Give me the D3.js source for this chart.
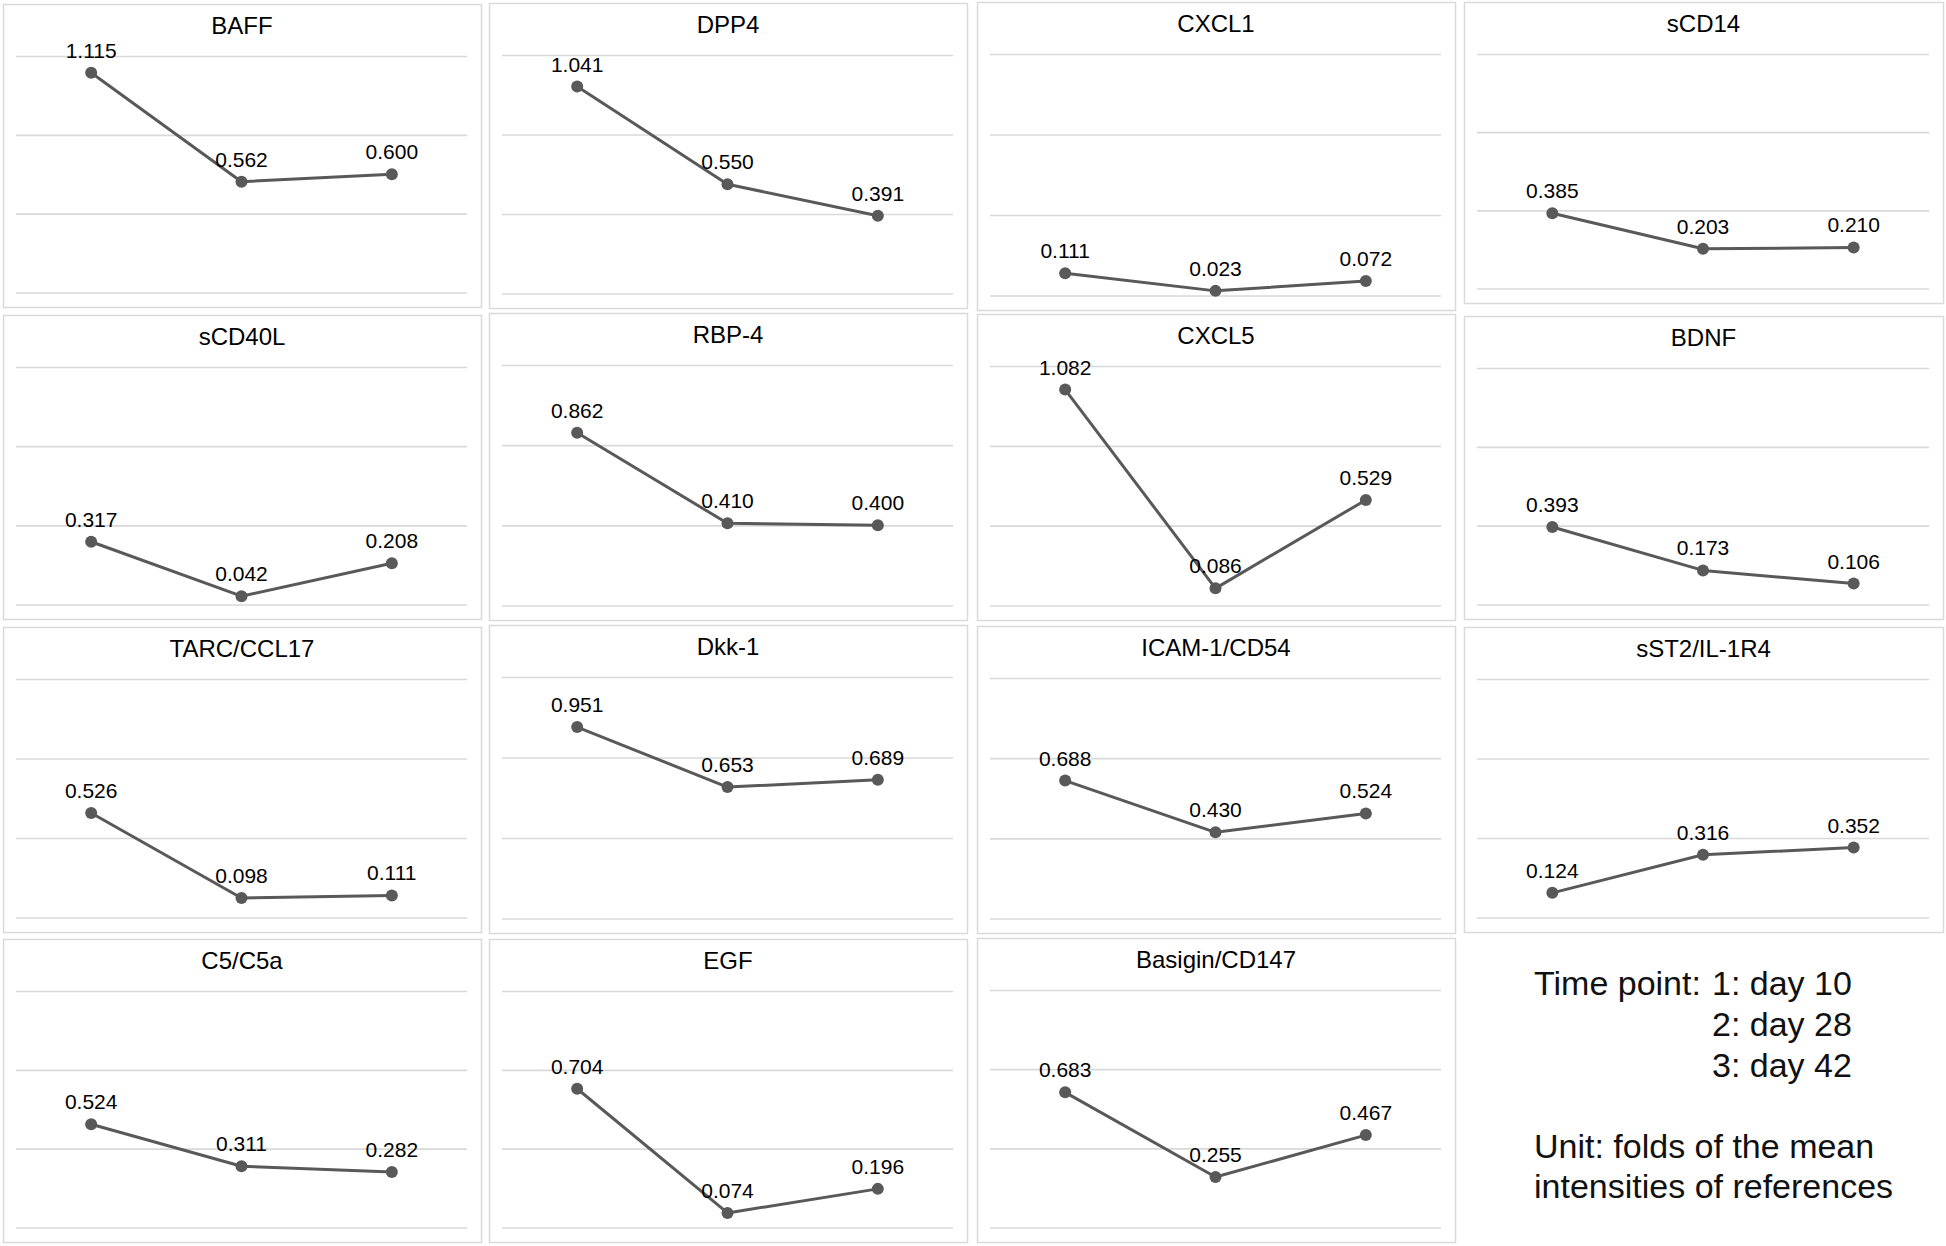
<!DOCTYPE html>
<html>
<head>
<meta charset="utf-8">
<script src="https://cdn.jsdelivr.net/npm/d3@7"></script>
<style>
  html, body { margin: 0; padding: 0; background: #ffffff; }
  svg { display: block; font-family: "Liberation Sans", Arial, Helvetica, sans-serif; }
</style>
</head>
<body>
<svg id="chart" width="1946" height="1246"></svg>
<script>
// ---------- data ----------
const analytes = ["BAFF", "DPP4", "CXCL1", "sCD14",
                  "sCD40L", "RBP-4", "CXCL5", "BDNF",
                  "TARC/CCL17", "Dkk-1", "ICAM-1/CD54", "sST2/IL-1R4",
                  "C5/C5a", "EGF", "Basigin/CD147"];
const timePoints = [1, 2, 3];
const day10 = [1.115, 1.041, 0.111, 0.385, 0.317, 0.862, 1.082, 0.393, 0.526, 0.951, 0.688, 0.124, 0.524, 0.704, 0.683];
const day28 = [0.562, 0.550, 0.023, 0.203, 0.042, 0.410, 0.086, 0.173, 0.098, 0.653, 0.430, 0.316, 0.311, 0.074, 0.255];
const day42 = [0.600, 0.391, 0.072, 0.210, 0.208, 0.400, 0.529, 0.106, 0.111, 0.689, 0.524, 0.352, 0.282, 0.196, 0.467];
const yTicks = [0, 0.4, 0.8, 1.2];
const noteTimeLabel = "Time point:";
const noteTimeLines = ["1: day 10", "2: day 28", "3: day 42"];
const noteUnitLines = ["Unit: folds of the mean", "intensities of references"];

// ---------- layout ----------
const colLeft  = [3, 489, 977, 1464];
const colRight = [481, 967, 1455, 1943];
const rowTop    = [[4, 3, 2, 2], [315, 313, 314, 316], [627, 625, 626, 627], [939, 939, 938]];
const rowBottom = [[307, 308, 310, 303], [619, 620, 620, 619], [932, 933, 933, 932], [1242, 1242, 1242]];

const lineColor = "#595959";
const gridColor = "#d9d9d9";
const fmt = d3.format(".3f");

const svg = d3.select("#chart");

analytes.forEach((name, i) => {
  const r = Math.floor(i / 4), c = i % 4;
  const x0 = colLeft[c], x1 = colRight[c];
  const y0 = rowTop[r][c], y1 = rowBottom[r][c];
  const g = svg.append("g");

  // panel border
  g.append("rect")
    .attr("x", x0 + 0.5).attr("y", y0 + 0.5)
    .attr("width", x1 - x0).attr("height", y1 - y0)
    .attr("fill", "#fff").attr("stroke", gridColor).attr("stroke-width", 1.5);

  const pl = x0 + 13, pr = x1 - 14;
  const pt = y0 + 52, pb = y1 - 14.5;

  const x = d3.scalePoint().domain(timePoints).range([pl, pr]).padding(0.5);
  const y = d3.scaleLinear().domain([0, 1.2]).range([pb, pt]);

  // gridlines
  const gridAxis = d3.axisLeft(y).tickValues(yTicks).tickSize(-(pr - pl)).tickFormat("");
  const gg = g.append("g").attr("transform", `translate(${pl},0)`).call(gridAxis);
  gg.select(".domain").remove();
  gg.selectAll(".tick line").attr("stroke", gridColor).attr("stroke-width", 1.6);

  // title
  g.append("text")
    .attr("x", (x0 + x1) / 2).attr("y", y0 + 30)
    .attr("text-anchor", "middle")
    .attr("font-size", 24).attr("fill", "#000")
    .text(name);

  const pts = timePoints.map((t, k) => ({ t, v: [day10[i], day28[i], day42[i]][k] }));

  g.append("path")
    .datum(pts)
    .attr("fill", "none").attr("stroke", lineColor).attr("stroke-width", 3)
    .attr("stroke-linejoin", "round")
    .attr("d", d3.line().x(d => x(d.t)).y(d => y(d.v)));

  g.selectAll("circle").data(pts).join("circle")
    .attr("cx", d => x(d.t)).attr("cy", d => y(d.v)).attr("r", 6)
    .attr("fill", lineColor);

  g.selectAll("text.lbl").data(pts).join("text")
    .attr("class", "lbl")
    .attr("x", d => x(d.t)).attr("y", d => y(d.v) - 15)
    .attr("text-anchor", "middle")
    .attr("font-size", 21).attr("fill", "#000")
    .text(d => fmt(d.v));
});

// ---------- note ----------
const note = svg.append("g").attr("font-size", 34).attr("fill", "#111");
note.append("text").attr("x", 1534).attr("y", 995).text(noteTimeLabel);
note.selectAll("text.tl").data(noteTimeLines).join("text")
  .attr("class", "tl")
  .attr("x", 1712).attr("y", (d, k) => 995 + k * 41)
  .text(d => d);
note.selectAll("text.ul").data(noteUnitLines).join("text")
  .attr("class", "ul")
  .attr("x", 1534).attr("y", (d, k) => 1158 + k * 40)
  .text(d => d);
</script>
</body>
</html>
